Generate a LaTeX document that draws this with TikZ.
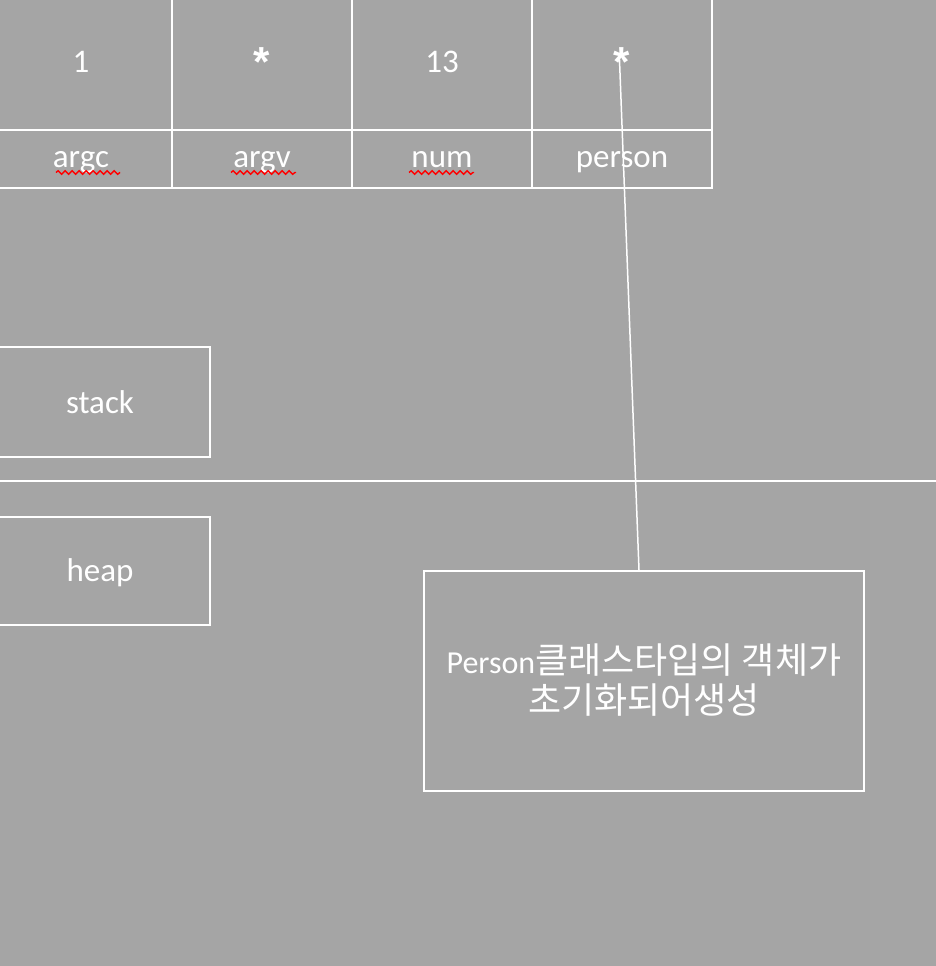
\documentclass[tikz,border=0pt]{standalone}
\usepackage{fontspec}
\setmainfont{Carlito}
\newfontfamily\kr{Noto Sans CJK KR}
\newfontfamily\astfont{Liberation Sans}
\usetikzlibrary{decorations.pathmorphing}
\definecolor{bg}{HTML}{A5A5A5}
\newcommand{\bigast}{{\astfont\bfseries\fontsize{42}{42}\selectfont *}}
\tikzset{
  box/.style={draw=white, line width=2pt, text=white, inner sep=0pt, font=\fontsize{33}{40}\selectfont},
  cell/.style={box, minimum width=180pt},
  toprow/.style={cell, minimum height=136pt},
  botrow/.style={cell, minimum height=58pt, text height=22pt, text depth=6pt},
  wire/.style={draw=white, line width=1.5pt},
  squig/.style={draw=red, line width=1.4pt, decorate, decoration={snake, segment length=7pt, amplitude=1.8pt}}
}
\begin{document}
\begin{tikzpicture}[x=1pt,y=-1pt]
\fill[bg] (0,0) rectangle (936,966);
\useasboundingbox (0,0) rectangle (936,966);
\clip (0,0) rectangle (936,966);
% table
\node[toprow, minimum width=182pt] (c1) at (81,62) {1};
\node[toprow] (c2) at (262,62) {\bigast};
\node[toprow] (c3) at (442,62) {13};
\node[toprow] (c4) at (622,62) {\bigast};
\node[botrow, minimum width=182pt] (l1) at (81,159) {argc};
\node[botrow] (l2) at (262,159) {argv};
\node[botrow] (l3) at (442,159) {num};
\node[botrow] (l4) at (622,159) {person};
% spell-check marks
\coordinate (s1a) at (56,172.5); \coordinate (s1b) at (120,172.5);
\coordinate (s2a) at (231,172.5); \coordinate (s2b) at (296,172.5);
\coordinate (s3a) at (409,172.5); \coordinate (s3b) at (474,172.5);
\draw[squig] (s1a) -- (s1b);
\draw[squig] (s2a) -- (s2b);
\draw[squig] (s3a) -- (s3b);
% stack / heap
\node[box, minimum width=220pt, minimum height=110pt] (stack) at (100,402) {stack};
\coordinate (divl) at (0,481);
\coordinate (divr) at (936,481);
\draw[wire] (divl) -- (divr);
\node[box, minimum width=220pt, minimum height=108pt, text height=25pt, text depth=5pt] (heap) at (100,571) {heap};
% object box
\node[box, minimum width=440pt, minimum height=220pt] (pbox) at (644,681) {};
\node[text=white, inner sep=0pt, align=center, font=\fontsize{32}{40}\selectfont] (ptext) at (644,680)
  {Person{\kr\fontsize{36}{40}\selectfont 클래스타입의 객체가}\\{\kr\fontsize{36}{40}\selectfont 초기화되어생성}};
\coordinate (ptr) at (619.5,60);
\draw[wire] (ptr) -- ([xshift=-5pt]pbox.north);
\end{tikzpicture}
\end{document}
